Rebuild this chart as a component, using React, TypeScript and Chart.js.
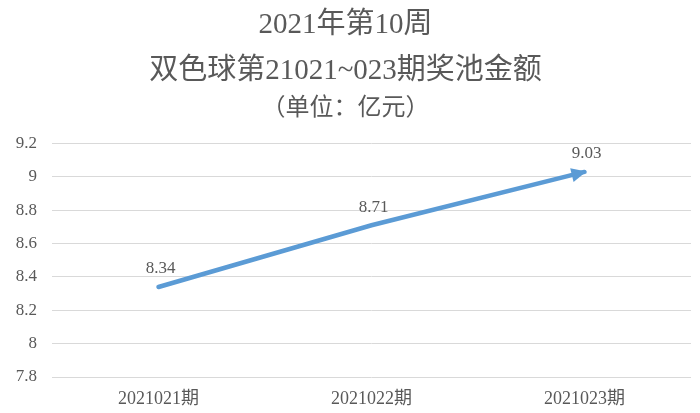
import React, { useEffect, useRef } from "react";
import { Chart, registerables } from "chart.js";

Chart.register(...registerables);

const categories = ["2021021期", "2021022期", "2021023期"];
const poolValues = [8.34, 8.71, 9.03];
const titleLines = ["2021年第10周", "双色球第21021~023期奖池金额"];
const subtitleText = "（单位：亿元）";
const yMin = 7.8;
const yMax = 9.2;
const yStep = 0.2;

const SERIF = '"Liberation Serif", "Noto Sans CJK SC", serif';
const GREY = "#595959";
const LINE = "#5B9BD5";

const decorPlugin = {
  id: "decor",
  afterDatasetsDraw(chart: any) {
    const ctx = chart.ctx;
    const meta = chart.getDatasetMeta(0);
    const pts = meta.data;
    const n = pts.length;
    if (n >= 2) {
      const a = pts[n - 2];
      const b = pts[n - 1];
      const ang = Math.atan2(b.y - a.y, b.x - a.x);
      const len = 15;
      const half = 7;
      const tipX = b.x + Math.cos(ang) * 2;
      const tipY = b.y + Math.sin(ang) * 2;
      ctx.save();
      ctx.fillStyle = LINE;
      ctx.beginPath();
      ctx.moveTo(tipX, tipY);
      ctx.lineTo(
        tipX - Math.cos(ang) * len - Math.sin(ang) * half,
        tipY - Math.sin(ang) * len + Math.cos(ang) * half
      );
      ctx.lineTo(
        tipX - Math.cos(ang) * len + Math.sin(ang) * half,
        tipY - Math.sin(ang) * len - Math.cos(ang) * half
      );
      ctx.closePath();
      ctx.fill();
      ctx.restore();
    }
    ctx.save();
    ctx.font = `17px ${SERIF}`;
    ctx.fillStyle = GREY;
    ctx.textAlign = "center";
    ctx.textBaseline = "middle";
    pts.forEach((p: any, i: number) => {
      ctx.fillText(poolValues[i].toFixed(2), p.x + 2, p.y - 18);
    });
    ctx.restore();
  },
};

export default function App() {
  const ref = useRef<HTMLCanvasElement | null>(null);
  useEffect(() => {
    if (!ref.current) return;
    const chart = new Chart(ref.current, {
      type: "line",
      data: {
        labels: categories,
        datasets: [
          {
            data: poolValues,
            borderColor: LINE,
            borderWidth: 4.5,
            pointRadius: 0,
            pointHoverRadius: 0,
            fill: false,
            tension: 0,
            borderCapStyle: "round",
          },
        ],
      },
      options: {
        animation: false,
        responsive: false,
        maintainAspectRatio: false,
        layout: { padding: { left: 0, right: 9, top: 0, bottom: 0 } },
        plugins: {
          legend: { display: false },
          tooltip: { enabled: false },
          title: {
            display: true,
            text: titleLines,
            color: GREY,
            font: { family: SERIF, size: 29, weight: "normal", lineHeight: 1.6 },
            padding: { top: 2, bottom: 0 },
          },
          subtitle: {
            display: true,
            text: subtitleText,
            color: GREY,
            font: { family: SERIF, size: 24, weight: "normal", lineHeight: 1.2 },
            padding: { top: 0, bottom: 20 },
          },
        },
        scales: {
          x: {
            offset: true,
            grid: { display: false, drawTicks: false },
            border: { display: false },
            ticks: { color: GREY, font: { family: SERIF, size: 18 }, padding: 11, maxRotation: 0 },
            afterFit: (scale: any) => {
              scale.height = 36;
            },
          },
          y: {
            min: yMin,
            max: yMax,
            grid: { color: "#D9D9D9", lineWidth: 1, drawTicks: false },
            border: { display: false },
            ticks: {
              stepSize: yStep,
              color: GREY,
              font: { family: SERIF, size: 17 },
              padding: 15,
              callback: (v: any) => String(Math.round(Number(v) * 10) / 10),
            },
            afterFit: (scale: any) => {
              scale.width = 52;
            },
          },
        },
      },
      plugins: [decorPlugin],
    });
    return () => chart.destroy();
  }, []);
  return (
    <div style={{ position: "fixed", left: 0, top: 0, width: 700, height: 413, background: "#fff" }}>
      <canvas ref={ref} width={700} height={413} style={{ width: 700, height: 413 }} />
    </div>
  );
}
